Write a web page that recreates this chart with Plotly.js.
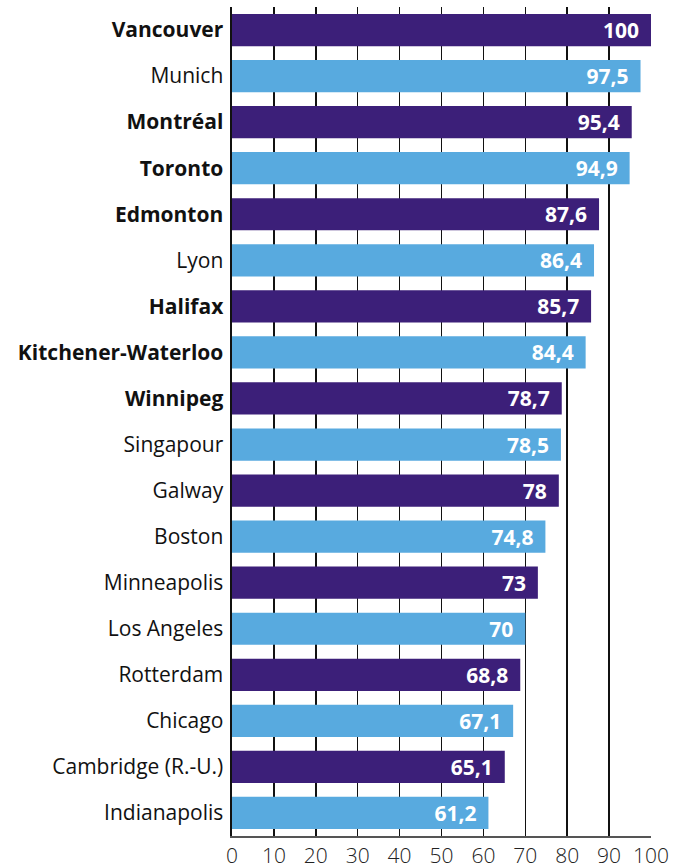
<!DOCTYPE html>
<html>
<head>
<meta charset="utf-8">
<script src="https://cdn.plot.ly/plotly-3.0.1.min.js"></script>
<style>html,body{margin:0;padding:0;background:#fff;}#chart{width:683px;height:868px;}</style>
</head>
<body>
<div id="chart"></div>
<script>
const cities = ["Vancouver","Munich","Montréal","Toronto","Edmonton","Lyon","Halifax","Kitchener-Waterloo","Winnipeg","Singapour","Galway","Boston","Minneapolis","Los Angeles","Rotterdam","Chicago","Cambridge (R.-U.)","Indianapolis"];
const scores = [100,97.5,95.4,94.9,87.6,86.4,85.7,84.4,78.7,78.5,78,74.8,73,70,68.8,67.1,65.1,61.2];
const canadian = [true,false,true,true,true,false,true,true,true,false,false,false,false,false,false,false,false,false];
const xTicks = [0,10,20,30,40,50,60,70,80,90,100];

const purple = "#3c1f79";
const blue = "#58aadf";
const colors = cities.map((c,i)=> i%2===0 ? purple : blue);
const labels = scores.map(v => String(v).replace('.', ',') + '\u00a0\u2009');
const tickText = cities.map((c,i)=> canadian[i] ? '<b>'+c+'</b>' : c);

Plotly.newPlot('chart', [{
  type: 'bar',
  orientation: 'h',
  y: cities,
  x: scores,
  marker: {color: colors, line: {width: 0}},
  text: labels,
  textposition: 'inside',
  insidetextanchor: 'end',
  constraintext: 'none',
  textangle: 0,
  textfont: {family: '"Open Sans", sans-serif', size: 21, color: '#ffffff', weight: 'bold'},
  hoverinfo: 'none',
  cliponaxis: false
}], {
  width: 683, height: 868,
  margin: {l: 232, r: 32, t: 7, b: 32, pad: 0},
  paper_bgcolor: '#fff', plot_bgcolor: '#fff',
  bargap: 0.3,
  showlegend: false,
  font: {family: '"Open Sans", sans-serif', color: '#111'},
  xaxis: {
    range: [0, 100],
    tickvals: xTicks,
    ticktext: xTicks.map(String),
    showgrid: true, gridcolor: '#111', gridwidth: 1.5,
    zeroline: false,
    showline: true, linecolor: '#555', linewidth: 2,
    ticks: '',
    tickfont: {size: 21, color: '#222', family: '"Open Sans", sans-serif', weight: 300},
    fixedrange: true
  },
  yaxis: {
    autorange: 'reversed',
    tickvals: cities,
    ticktext: tickText,
    showgrid: false,
    showline: true, linecolor: '#111', linewidth: 2.5,
    ticks: '',
    ticklabelstandoff: 2,
    tickfont: {size: 21, color: '#111', family: '"Open Sans", sans-serif'},
    fixedrange: true
  }
}, {staticPlot: true});
</script>
</body>
</html>
